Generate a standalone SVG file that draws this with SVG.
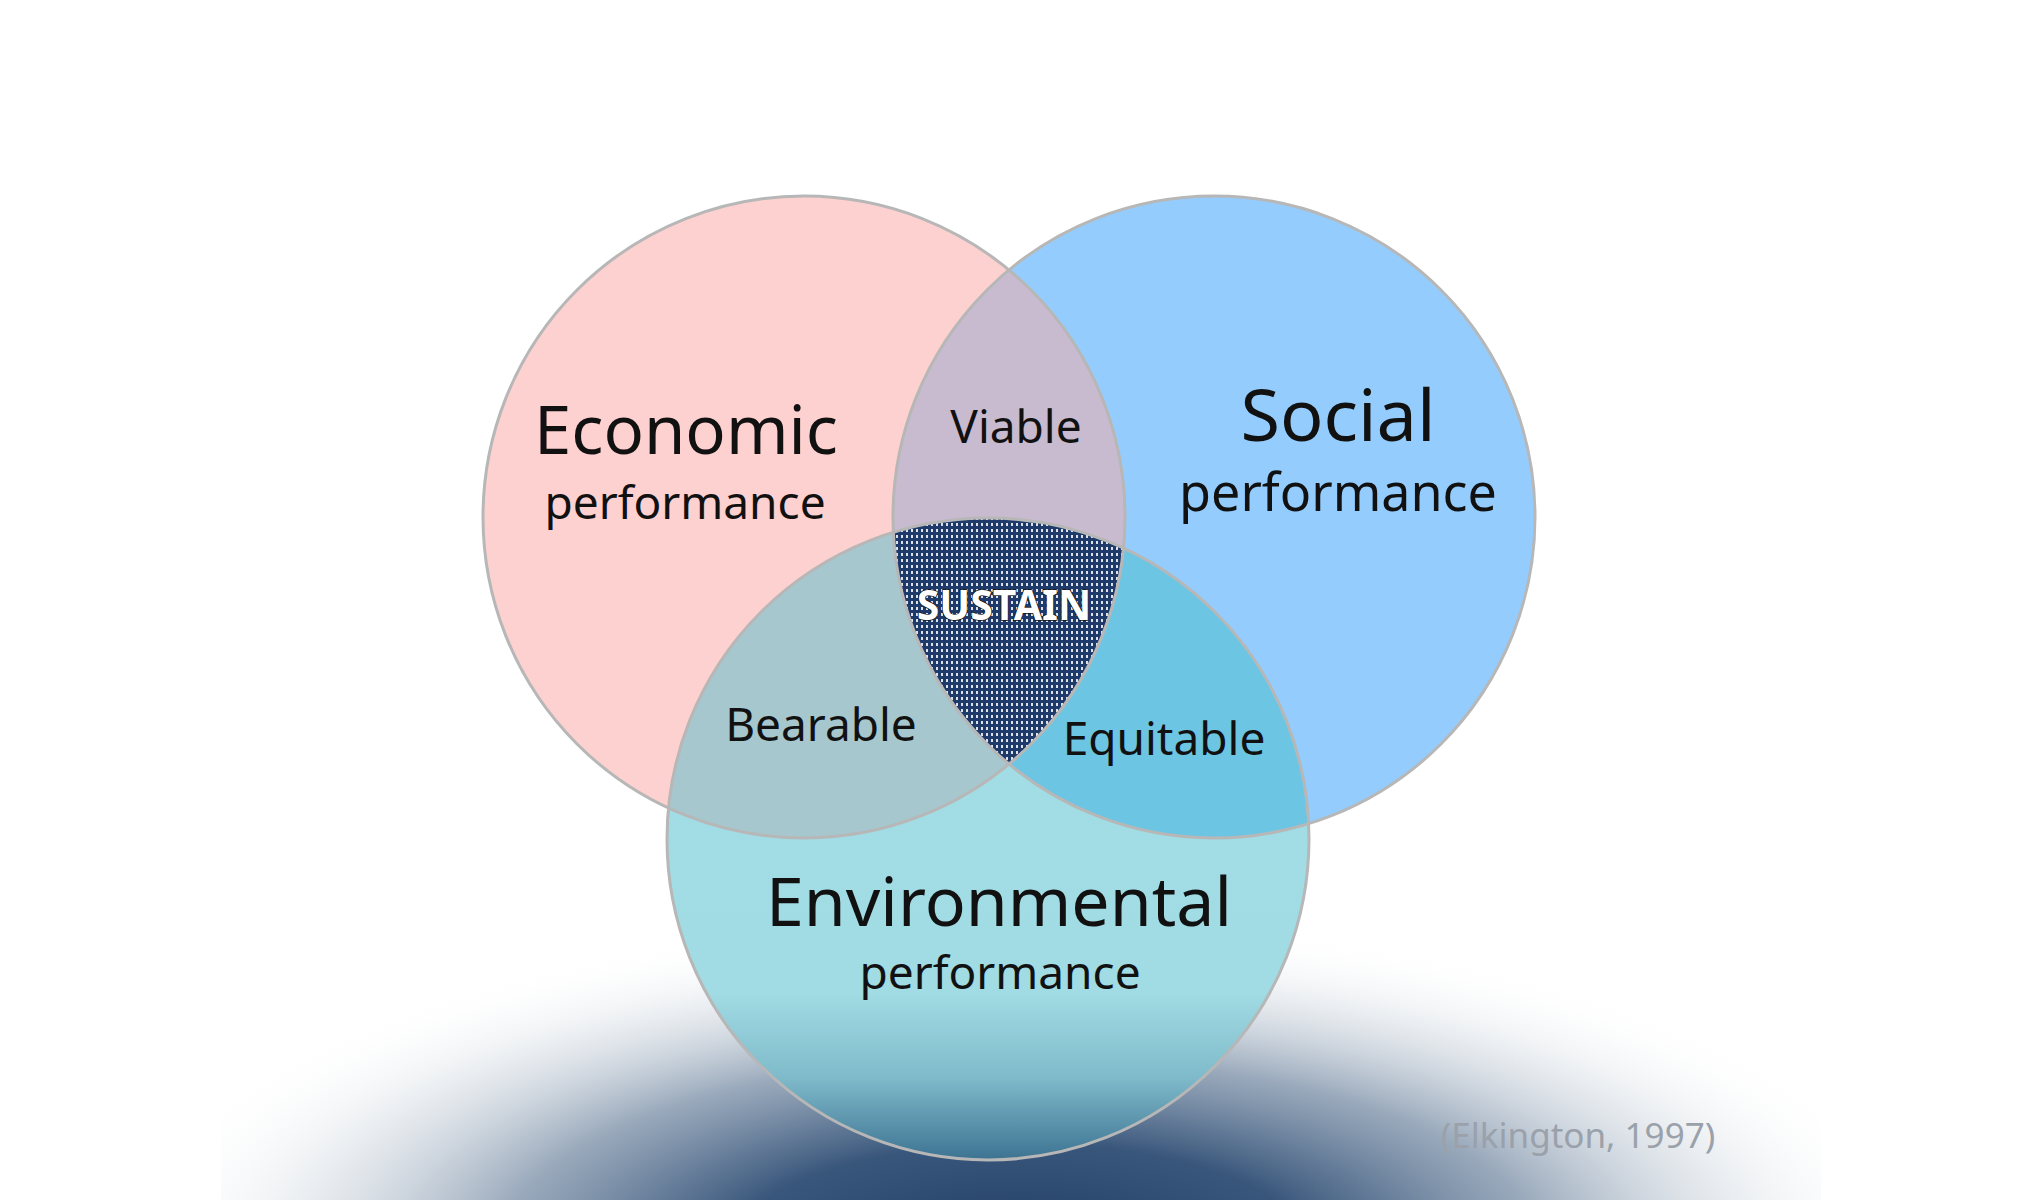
<svg xmlns="http://www.w3.org/2000/svg" width="2040" height="1200" viewBox="0 0 2040 1200">
<style>
.lbl{font-family:"Noto Sans","Open Sans","DejaVu Sans",sans-serif;fill:#111;text-anchor:middle}
.ring{fill:none;stroke:#b7b7b7;stroke-width:3}
</style>
<defs>
<clipPath id="cE"><circle cx="804" cy="517" r="321"/></clipPath>
<clipPath id="cS"><circle cx="1214" cy="517" r="321"/></clipPath>
<clipPath id="cBand"><rect x="221" y="0" width="1600" height="1200"/></clipPath>
<radialGradient id="bg" gradientUnits="userSpaceOnUse" cx="1020" cy="1250" r="900" gradientTransform="translate(1020 1250) scale(1 0.37) translate(-1020 -1250)">
<stop offset="0" stop-color="#1f3b63" stop-opacity="1"/>
<stop offset="0.32" stop-color="#2e4d74" stop-opacity="0.95"/>
<stop offset="0.58" stop-color="#647c98" stop-opacity="0.65"/>
<stop offset="0.8" stop-color="#b3bfcc" stop-opacity="0.3"/>
<stop offset="1" stop-color="#ffffff" stop-opacity="0"/>
</radialGradient>
<linearGradient id="envFill" gradientUnits="userSpaceOnUse" x1="0" y1="518" x2="0" y2="1160">
<stop offset="0" stop-color="#a3dee6"/>
<stop offset="0.74" stop-color="#a1dbe3"/>
<stop offset="0.87" stop-color="#80bbcb"/>
<stop offset="1" stop-color="#3d7392"/>
</linearGradient>
<pattern id="dots" patternUnits="userSpaceOnUse" width="5" height="6">
<rect width="5" height="6" fill="#1d3a6a"/>
<rect x="1" y="1" width="2" height="3" fill="#ffffff" opacity="0.85"/>
</pattern>
</defs>
<rect width="2040" height="1200" fill="#ffffff"/>
<rect x="221" y="900" width="1600" height="300" fill="url(#bg)" clip-path="url(#cBand)"/>
<g id="economic">
<circle cx="804" cy="517" r="321" fill="#fdd1cf"/>
</g>
<g id="social">
<circle cx="1214" cy="517" r="321" fill="#94cdfd"/>
</g>
<g id="environmental">
<circle cx="988" cy="839" r="321" fill="url(#envFill)"/>
</g>
<g id="viable">
<circle cx="1214" cy="517" r="321" fill="#c9bbcf" clip-path="url(#cE)"/>
</g>
<g id="bearable">
<circle cx="988" cy="839" r="321" fill="#a6c7ce" clip-path="url(#cE)"/>
</g>
<g id="equitable">
<circle cx="988" cy="839" r="321" fill="#6dc5e4" clip-path="url(#cS)"/>
</g>
<g id="sustain" clip-path="url(#cE)">
<circle cx="988" cy="839" r="321" fill="url(#dots)" clip-path="url(#cS)"/>
</g>
<g id="connectors">
<circle class="ring" cx="804" cy="517" r="321"/>
<circle class="ring" cx="1214" cy="517" r="321"/>
<circle class="ring" cx="988" cy="839" r="321"/>
</g>
<g id="labels">
<text class="lbl" x="686" y="454" font-size="67">Economic</text>
<text class="lbl" x="685" y="519" font-size="46">performance</text>
<text class="lbl" x="1338" y="441" font-size="72">Social</text>
<text class="lbl" x="1338" y="511" font-size="52">performance</text>
<text class="lbl" x="1016" y="443" font-size="46">Viable</text>
<text class="lbl" x="821" y="741" font-size="46">Bearable</text>
<text class="lbl" x="1164" y="755" font-size="46">Equitable</text>
<text class="lbl" x="999" y="926" font-size="68">Environmental</text>
<text class="lbl" x="1000" y="989" font-size="46">performance</text>
<text x="1004" y="620" font-size="41" font-weight="bold" text-anchor="middle" font-family="'Noto Sans','Open Sans',sans-serif" fill="#ffffff" stroke="#111" stroke-width="1.5" paint-order="stroke">SUSTAIN</text>
<text x="1578" y="1148" font-size="35" text-anchor="middle" font-family="'Noto Sans','Open Sans',sans-serif" fill="#9aa1aa">(Elkington, 1997)</text>
</g>
</svg>
